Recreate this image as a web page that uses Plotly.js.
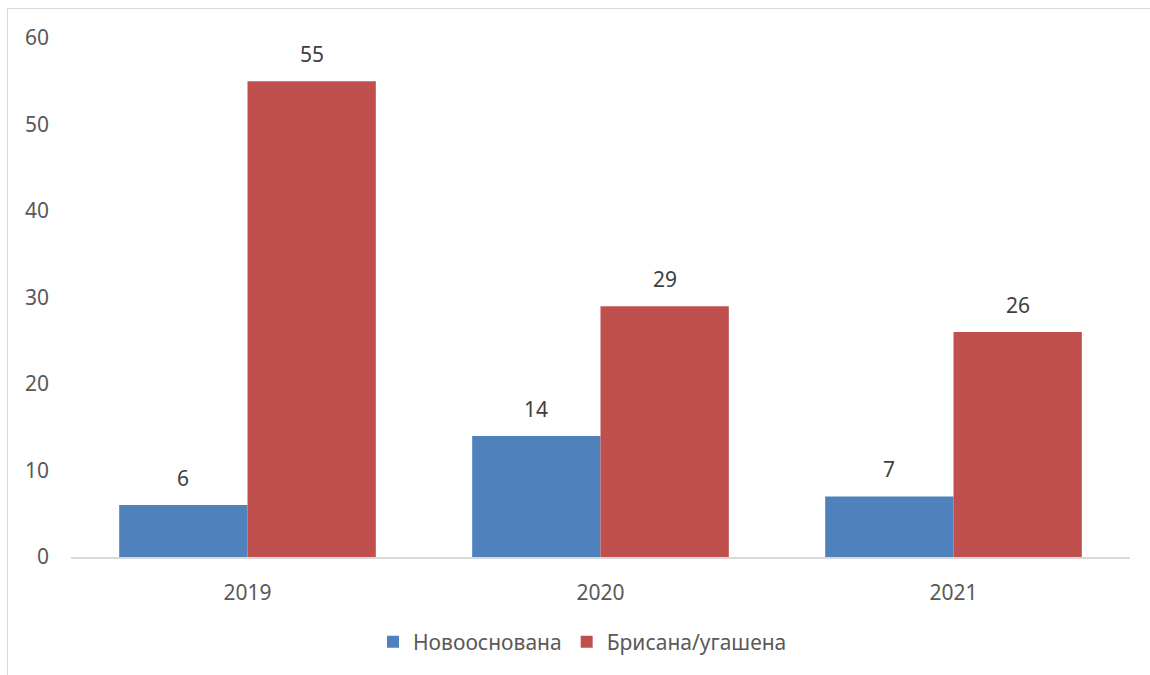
<!DOCTYPE html>
<html><head><meta charset="utf-8">
<script src="https://cdn.plot.ly/plotly-3.0.1.min.js"></script>
<style>
html,body{margin:0;padding:0;background:#fff;}
#wrap{position:relative;width:1150px;height:675px;overflow:hidden;}
#frame{position:absolute;left:7px;top:8px;width:1200px;height:700px;border-left:1.5px solid #d9d9d9;border-top:1.5px solid #d9d9d9;pointer-events:none;}
#chart{position:absolute;left:0;top:0;width:1150px;height:675px;}
</style></head>
<body><div id="wrap"><div id="chart"></div><div id="frame"></div></div>
<script>
const years = ['2019', '2020', '2021'];
const newFounded = [6, 14, 7];
const closed = [55, 29, 26];
const seriesNames = ['Новооснована', 'Брисана/угашена'];
const colors = ['#4F81BD', '#C0504D'];
const yTicks = [0, 10, 20, 30, 40, 50, 60];

const font = 'Noto Sans, Open Sans, sans-serif';
const fs = 21;
const traces = [
  {type:'bar', x:years, y:newFounded, name:seriesNames[0], marker:{color:colors[0]}, hoverinfo:'none'},
  {type:'bar', x:years, y:closed, name:seriesNames[1], marker:{color:colors[1]}, hoverinfo:'none'}
];
const offset = 0.1815;
const annotations = [];
[newFounded, closed].forEach((arr, s) => {
  arr.forEach((v, i) => {
    annotations.push({x: i + (s === 0 ? -offset : offset), y: v, xref:'x', yref:'y', text:String(v),
      showarrow:false, yanchor:'bottom', yshift:11, font:{family:font, size:fs, color:'#404040'}});
  });
});
const layout = {
  width:1150, height:675,
  margin:{l:71, r:20, t:38, b:118},
  paper_bgcolor:'rgba(0,0,0,0)', plot_bgcolor:'rgba(0,0,0,0)',
  barmode:'group', bargap:0.273, bargroupgap:0,
  showlegend:true,
  legend:{orientation:'h', x:0.483, xanchor:'center', y:-0.164, yanchor:'middle',
    font:{family:font, size:fs, color:'#595959'}, itemwidth:30, traceorder:'normal'},
  xaxis:{type:'category', showgrid:false, zeroline:false, showline:true, linecolor:'#d9d9d9', linewidth:1.5,
    ticks:'', ticklabelstandoff:16, tickfont:{family:font, size:fs, color:'#595959'}},
  yaxis:{range:[0,60], tickvals:yTicks, showgrid:false, zeroline:false, showline:false,
    ticks:'', ticklabelstandoff:21, tickfont:{family:font, size:fs, color:'#595959'}},
  annotations:annotations
};
Plotly.newPlot('chart', traces, layout, {displayModeBar:false, staticPlot:true});
</script></body></html>
